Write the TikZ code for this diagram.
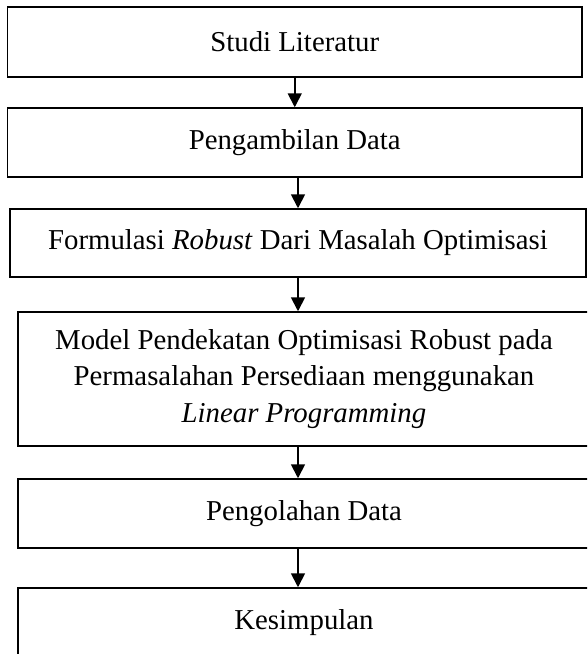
\documentclass[tikz,border=0pt]{standalone}
\usepackage{fontspec}
\setmainfont{Liberation Serif}
\usepackage{tikz}
\usetikzlibrary{arrows.meta,positioning}
\tikzset{
  stage/.style={draw,line width=1.5pt,inner sep=0pt,align=center,
    font=\fontsize{28.8}{36.5}\selectfont},
  arr/.style={-{Triangle[length=14pt,width=14pt]},line width=1.8pt}
}

\begin{document}
\begin{tikzpicture}[x=1pt,y=1pt]
 \path[use as bounding box,clip] (0,0) rectangle (587,-654);
 % stages of the study, top to bottom
 \node[stage,minimum width=574.5pt,minimum height=70pt] (studi) at (294.75,-42) {Studi Literatur};
 \node[stage,minimum width=574.5pt,minimum height=69pt] (data) at (294.75,-142.5) {Pengambilan Data};
 \node[stage,minimum width=576pt,minimum height=68pt] (formulasi) at (298,-243)
   {Formulasi \textit{Robust} Dari Masalah Optimisasi};
 \node[stage,minimum width=572pt,minimum height=134pt] (model) at (304,-379)
   {Model Pendekatan Optimisasi Robust pada\\Permasalahan Persediaan menggunakan\\\textit{Linear Programming}};
 \node[stage,minimum width=572pt,minimum height=69pt] (olah) at (304,-513.5) {Pengolahan Data};
 \node[stage,minimum width=572pt,minimum height=69pt] (simpul) at (304,-622.5) {Kesimpulan};
 % arrows
 \draw[arr] (studi.south) -- (data.north);
 \draw[arr] (data.south -| formulasi) -- (formulasi.north);
 \draw[arr] (formulasi.south) -- (formulasi.south |- model.north);
 \draw[arr] (model.south -| formulasi) -- (formulasi |- olah.north);
 \draw[arr] (olah.south -| formulasi) -- (formulasi |- simpul.north);
\end{tikzpicture}
\end{document}
